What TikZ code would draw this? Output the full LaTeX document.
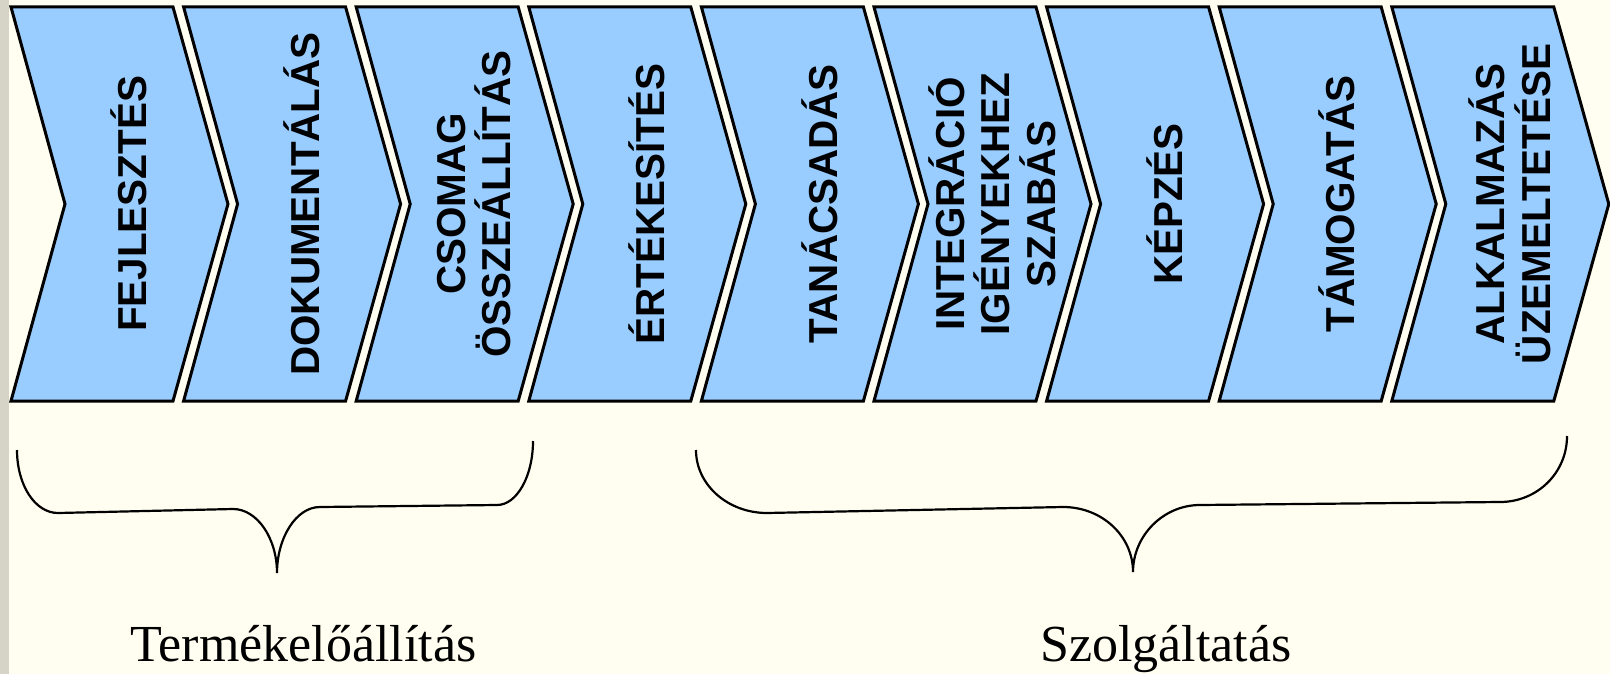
\documentclass[tikz,border=0pt]{standalone}
\usepackage{fontspec}
\setmainfont{Liberation Serif}
\setsansfont{Liberation Sans}
\usetikzlibrary{positioning}
\definecolor{cream}{RGB}{255,254,240}
\definecolor{chevblue}{RGB}{153,204,255}
\definecolor{bgstrip}{RGB}{214,212,198}
\tikzset{
	chevron/.style={draw=black, fill=chevblue, line width=1.5pt, line join=miter},
	steplabel/.style={rotate=90, align=center, inner sep=0pt, font=\sffamily\bfseries\fontsize{20.2}{22.8}\selectfont},
	bracepath/.style={draw=black, line width=1.1pt},
	bracelabel/.style={anchor=base, inner sep=0pt, font=\fontsize{26}{30}\selectfont}
}

\begin{document}
\begin{tikzpicture}[x=0.5pt, y=-0.5pt]
		\useasboundingbox (0,0) rectangle (1610,674);
		\fill[cream] (0,0) rectangle (1610,674);
		\fill[bgstrip] (0,0) rectangle (9,674);

		\foreach \i in {0,...,8} {
			\pgfmathsetmacro{\xl}{11+172.6*\i}
			\draw[chevron] (\xl,7) -- (\xl+162,7) -- (\xl+217,204) -- (\xl+162,401) -- (\xl,401) -- (\xl+54,204) -- cycle;
		}

		\node[steplabel] at (129,204) (fejl)    {FEJLESZTÉS};
		\node[steplabel] at (301.6,204) (doku)    {DOKUMENTÁLÁS};
		\node[steplabel] at (474.2,204) (csomag)    {CSOMAG\\ÖSSZEÁLLÍTÁS};
		\node[steplabel] at (646.8,204) (ertek)    {ÉRTÉKESÍTÉS};
		\node[steplabel] at (819.4,204) (tanacs)    {TANÁCSADÁS};
		\node[steplabel] at (992,204) (integr)    {INTEGRÁCIÓ\\IGÉNYEKHEZ\\SZABÁS};
		\node[steplabel] at (1164.6,204) (kepzes)    {KÉPZÉS};
		\node[steplabel] at (1337.2,204) (tamog)    {TÁMOGATÁS};
		\node[steplabel] at (1509.8,204) (alkalm)    {ALKALMAZÁS\\ÜZEMELTETÉSE};

		% braces
		\draw[bracepath] (17,450) .. controls (17,485) and (35,513) .. (58,513)
			-- (233,509) .. controls (257,509) and (277,538) .. (277,573)
			.. controls (277,538) and (296,507) .. (320,507)
			-- (497,505) .. controls (517,505) and (533,476) .. (533,441);
		\draw[bracepath] (696,450) .. controls (696,485) and (728,513) .. (767,513)
			-- (1063,507) .. controls (1102,507) and (1133,536) .. (1133,572)
			.. controls (1133,536) and (1163,505) .. (1200,505)
			-- (1500,502) .. controls (1537,502) and (1567,473) .. (1567,436);

		\node[bracelabel] at (303.5,661) (termek) {Termékelőállítás};
		\node[bracelabel] at (1166,661) (szolg) {Szolgáltatás};
	\end{tikzpicture}
\end{document}
